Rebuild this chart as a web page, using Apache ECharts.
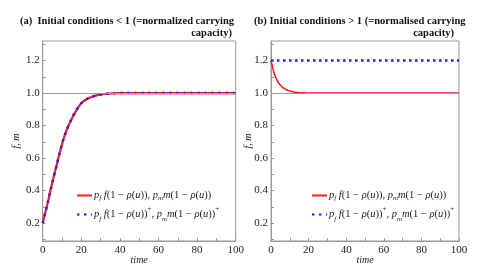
<!DOCTYPE html>
<html>
<head>
<meta charset="utf-8">
<script src="https://cdn.jsdelivr.net/npm/echarts@6/dist/echarts.min.js"></script>
<style>html,body{margin:0;padding:0;background:#fff;}#c{width:496px;height:270px;}</style>
</head>
<body>
<div id="c"></div>
<script>
// Panel (a): initial condition 0.2 < 1
const timeA = [0,1,2,3,4,5,6,7,8,9,10,11,12,13,14,15,16,17,18,19,20,21,22,23,24,26,28,30,33,36,40,45,50,60,70,80,90,100];
const redA  = [0.20,0.25,0.295,0.345,0.40,0.45,0.50,0.545,0.595,0.64,0.685,0.725,0.76,0.79,0.815,0.84,0.865,0.885,0.905,0.922,0.937,0.948,0.957,0.964,0.970,0.979,0.986,0.991,0.995,0.998,0.9995,1.0,1.0,1.0,1.0,1.0,1.0,1.0];
const blueA = [0.20,0.25,0.295,0.345,0.40,0.45,0.50,0.545,0.595,0.64,0.685,0.725,0.76,0.79,0.815,0.84,0.865,0.885,0.905,0.922,0.937,0.948,0.957,0.964,0.970,0.979,0.986,0.991,0.995,0.998,0.9995,1.0,1.0,1.0,1.0,1.0,1.0,1.0];
// Panel (b): initial condition 1.2 > 1
const timeB = [0,1,2,3,4,5,6,7,8,9,10,12,14,16,18,20,25,30,40,50,60,70,80,90,100];
const redB  = [1.2,1.15,1.11,1.085,1.062,1.048,1.037,1.028,1.022,1.017,1.013,1.007,1.004,1.002,1.001,1.0,1.0,1.0,1.0,1.0,1.0,1.0,1.0,1.0,1.0];
const timeBlueB = [0,20,40,60,80,100];
const blueB = [1.2,1.2,1.2,1.2,1.2,1.2];
const xTicks = [0,20,40,60,80,100];
const yTicks = [0.2,0.4,0.6,0.8,1.0,1.2];
const carrying = 1.0;

const pair = (t, v) => t.map((x, i) => [x, v[i]]);
const serif = 'Liberation Serif';
const RED = '#ff1a1a', BLUE = '#1f1fff', GRAY = '#9a9a9a';

function xAxis(gi) {
  return {
    type: 'value', gridIndex: gi, min: 0, max: 100, interval: 10,
    name: 'time', nameLocation: 'middle', nameGap: 14, nameMoveOverlap: false,
    nameTextStyle: {fontFamily: serif, fontStyle: 'italic', fontSize: 10, color: '#222'},
    axisLine: {show: true, lineStyle: {color: GRAY}},
    axisTick: {inside: true, length: 3, lineStyle: {color: GRAY}},
    axisLabel: {fontFamily: serif, fontSize: 11, color: '#222', margin: 4,
      formatter: v => xTicks.includes(Math.round(v)) ? String(Math.round(v)) : ''},
    splitLine: {show: false}
  };
}
function yAxis(gi, gap) {
  return {
    type: 'value', gridIndex: gi, min: 0.09, max: 1.32, splitNumber: 12,
    name: 'f, m', nameLocation: 'middle', nameGap: gap, nameRotate: 90, nameMoveOverlap: false,
    nameTextStyle: {fontFamily: serif, fontStyle: 'italic', fontSize: 10, color: '#222'},
    axisLine: {show: true, lineStyle: {color: GRAY}},
    axisTick: {inside: true, length: 3, lineStyle: {color: GRAY}},
    axisLabel: {fontFamily: serif, fontSize: 11, color: '#222', margin: 3, showMinLabel: false, showMaxLabel: false,
      formatter: v => yTicks.some(t => Math.abs(t - v) < 1e-6) ? v.toFixed(1) : ''},
    splitLine: {show: false}
  };
}
const NAME1 = 'red', NAME2 = 'blue';
const legendText = {
  [NAME1]: '{i|p}{s|f}{i| f}{t|(1 − }{i|ρ}{t|(}{i|u}{t|)), }{i|p}{s|m}{i|m}{t|(1 − }{i|ρ}{t|(}{i|u}{t|))}',
  [NAME2]: '{i|p}{s|f}{i| f}{t|(1 − }{i|ρ}{t|(}{i|u}{t|))}{p|+}{t|, }{i|p}{s|m}{i|m}{t|(1 − }{i|ρ}{t|(}{i|u}{t|))}{p|+}'
};
function legend(left, top) {
  return {
    orient: 'vertical', left: left, top: top, itemGap: 4, itemWidth: 15, itemHeight: 12,
    data: [NAME1, NAME2], selectedMode: false,
    itemStyle: {opacity: 0},
    formatter: n => legendText[n],
    textStyle: {fontFamily: serif, fontSize: 10.5, color: '#222', padding: [0,0,0,-3],
      rich: {
        t: {fontFamily: serif, fontSize: 10.5, color: '#222', lineHeight: 13},
        i: {fontFamily: serif, fontStyle: 'italic', fontSize: 10.5, color: '#222', lineHeight: 13},
        s: {fontFamily: serif, fontStyle: 'italic', fontSize: 7, color: '#222', verticalAlign: 'bottom', lineHeight: 9},
        p: {fontFamily: serif, fontSize: 7, color: '#222', verticalAlign: 'top', lineHeight: 17}
      }}
  };
}
const refLine = {
  silent: true, symbol: 'none', label: {show: false},
  lineStyle: {color: GRAY, width: 1, type: 'solid'},
  data: [{yAxis: carrying}]
};

const chart = echarts.init(document.getElementById('c'), null, {renderer: 'canvas'});
chart.setOption({
  animation: false,
  backgroundColor: '#fff',
  grid: [
    {left: 42.7, right: 260.3, top: 41, bottom: 29, show: true, borderColor: GRAY, borderWidth: 1, outerBoundsMode: 'none', containLabel: false},
    {left: 271, right: 37, top: 41, bottom: 29, show: true, borderColor: GRAY, borderWidth: 1, outerBoundsMode: 'none', containLabel: false}
  ],
  xAxis: [xAxis(0), xAxis(1)],
  yAxis: [yAxis(0, 21), yAxis(1, 18)],
  legend: [legend(71, 185), legend(306, 185)],
  graphic: [
    {type: 'text', left: 20, top: 16, style: {text: '(a)  Initial conditions < 1 (=normalized carrying', font: 'bold 10.5px "Liberation Serif"', fill: '#111'}},
    {type: 'text', right: 264, top: 28, style: {text: 'capacity)', font: 'bold 10.5px "Liberation Serif"', fill: '#111'}},
    {type: 'text', left: 254, top: 16, style: {text: '(b) Initial conditions > 1 (=normalised carrying', font: 'bold 10.5px "Liberation Serif"', fill: '#111'}},
    {type: 'text', right: 42, top: 28, style: {text: 'capacity)', font: 'bold 10.5px "Liberation Serif"', fill: '#111'}}
  ],
  series: [
    {name: NAME1, type: 'line', xAxisIndex: 0, yAxisIndex: 0, data: pair(timeA, redA), symbol: 'none', smooth: true,
      lineStyle: {color: RED, width: 2.2}, itemStyle: {color: RED}, markLine: refLine, z: 2},
    {name: NAME2, type: 'line', xAxisIndex: 0, yAxisIndex: 0, data: pair(timeA, blueA), symbol: 'none', smooth: true,
      lineStyle: {color: BLUE, width: 2.5, type: [2.5, 4.5]}, itemStyle: {color: BLUE}, z: 3},
    {name: NAME1, type: 'line', xAxisIndex: 1, yAxisIndex: 1, data: pair(timeB, redB), symbol: 'none', smooth: true,
      lineStyle: {color: RED, width: 1.5}, itemStyle: {color: RED}, markLine: refLine, z: 2},
    {name: NAME2, type: 'line', xAxisIndex: 1, yAxisIndex: 1, data: pair(timeBlueB, blueB), symbol: 'none',
      lineStyle: {color: BLUE, width: 2.5, type: [2.5, 3.5]}, itemStyle: {color: BLUE}, z: 3}
  ]
});
</script>
</body>
</html>
